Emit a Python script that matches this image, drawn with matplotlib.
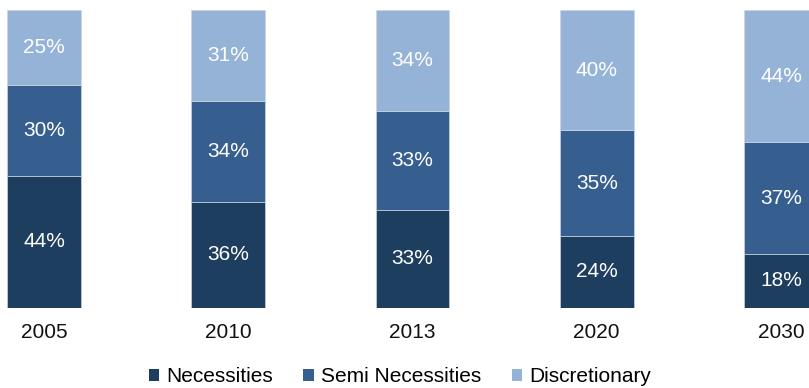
import matplotlib
matplotlib.use("Agg")
import matplotlib.pyplot as plt
from matplotlib.patches import Patch
import numpy as np

plt.rcParams['font.family'] = ['Liberation Sans', 'DejaVu Sans']

years = ["2005", "2010", "2013", "2020", "2030"]
series_names = ["Necessities", "Semi Necessities", "Discretionary"]
necessities = [44, 36, 33, 24, 18]
semi_necessities = [30, 34, 33, 35, 37]
discretionary = [25, 31, 34, 40, 44]

colors = ["#1E3E5F", "#365F8F", "#95B3D7"]

data = np.array([necessities, semi_necessities, discretionary], dtype=float)
shares = data / data.sum(axis=0)

fig = plt.figure(figsize=(8.09, 3.88), dpi=100)
ax = fig.add_axes([0, 1 - 308 / 388, 1, (308 - 10) / 388])

x = np.arange(len(years))
bottom = np.zeros(len(years))
for vals, share, col in zip(data, shares, colors):
    ax.bar(x, share, bottom=bottom, width=0.40, color=col,
           edgecolor="#C9D4E2", linewidth=0.5)
    for xi, b, s, v in zip(x, bottom, share, vals):
        ax.text(xi, b + s / 2, f"{int(v)}%", ha="center", va="center",
                color="white", fontsize=15)
    bottom += share

ax.set_xlim(-44 / 184.25, (809 - 44) / 184.25)
ax.set_ylim(0, 1)
ax.set_xticks(x)
ax.set_xticklabels(years, fontsize=15, color="#111111")
ax.tick_params(axis="x", length=0, pad=11)
ax.set_yticks([])
for sp in ax.spines.values():
    sp.set_visible(False)

handles = [Patch(facecolor=c, edgecolor="none") for c in colors]
fig.legend(handles, series_names, loc="center",
           bbox_to_anchor=(400 / 809, 1 - 377 / 388), ncol=3, frameon=False,
           fontsize=15, handlelength=0.5, handleheight=0.5,
           handletextpad=0.35, columnspacing=1.45, borderpad=0)

fig.savefig("out.png", dpi=100)
